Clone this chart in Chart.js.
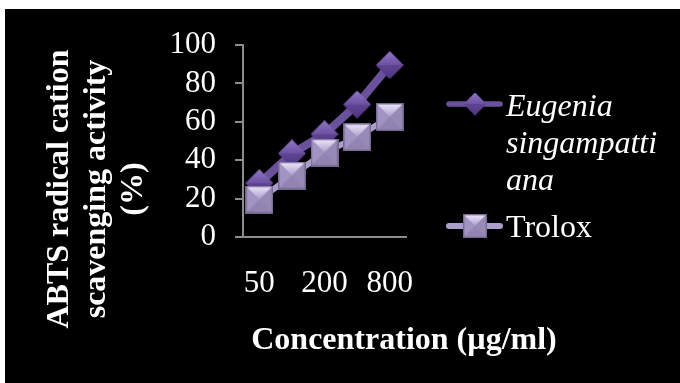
<!DOCTYPE html>
<html><head><meta charset="utf-8">
<script src="https://cdn.jsdelivr.net/npm/chart.js@4.4.0/dist/chart.umd.min.js"></script>
<style>html,body{margin:0;padding:0;background:#fff;}canvas{display:block;}</style>
</head><body>
<canvas id="c" width="680" height="383"></canvas>
<script>
const categories = ['50', '100', '200', '400', '800'];
const eugenia = [28, 43.5, 53.5, 69, 89.5];
const trolox = [19.5, 32, 44, 52, 62.5];
const seriesNames = ['Eugenia singampattiana', 'Trolox'];
const legendLines = [['Eugenia', 'singampatti', 'ana'], ['Trolox']];
const yTitleLines = ['ABTS radical cation', 'scavenging activity', '(%)'];
const xTitle = 'Concentration (µg/ml)';

const SERIF = "'Liberation Serif', 'Times New Roman', serif";

function makeDiamond() {
  const s = 28, h = s / 2;
  const c = document.createElement('canvas'); c.width = s; c.height = s;
  const g = c.getContext('2d');
  const gr = g.createLinearGradient(0, 0, 0, h);
  gr.addColorStop(0, '#9278c8'); gr.addColorStop(1, '#6c50a2');
  g.beginPath(); g.moveTo(0, h); g.lineTo(h, 0); g.lineTo(s, h); g.closePath();
  g.fillStyle = gr; g.fill();
  const gr2 = g.createLinearGradient(0, h, 0, s);
  gr2.addColorStop(0, '#5f4493'); gr2.addColorStop(1, '#4f3680');
  g.beginPath(); g.moveTo(0, h); g.lineTo(s, h); g.lineTo(h, s); g.closePath();
  g.fillStyle = gr2; g.fill();
  return c;
}
function makeSquare() {
  const s = 28, h = s / 2;
  const c = document.createElement('canvas'); c.width = s; c.height = s;
  const g = c.getContext('2d');
  g.fillStyle = '#9d90bd'; g.fillRect(0, 0, s, s);
  const gr = g.createLinearGradient(0, 0, 0, h);
  gr.addColorStop(0, '#f2eaff'); gr.addColorStop(1, '#a99dca');
  g.beginPath(); g.moveTo(0, 0); g.lineTo(s, 0); g.lineTo(h, h); g.closePath();
  g.fillStyle = gr; g.fill();
  g.beginPath(); g.moveTo(0, 0); g.lineTo(h, h); g.lineTo(0, s); g.closePath();
  g.fillStyle = '#a194c2'; g.fill();
  g.beginPath(); g.moveTo(s, 0); g.lineTo(h, h); g.lineTo(s, s); g.closePath();
  g.fillStyle = '#978ab6'; g.fill();
  g.beginPath(); g.moveTo(0, s); g.lineTo(h, h); g.lineTo(s, s); g.closePath();
  g.fillStyle = '#9184b1'; g.fill();
  g.strokeStyle = '#74688f'; g.lineWidth = 1.5; g.strokeRect(0.75, 0.75, s - 1.5, s - 1.5);
  return c;
}
const diamondImg = makeDiamond();
const squareImg = makeSquare();

const decor = {
  id: 'decor',
  beforeDraw(chart) {
    const ctx = chart.ctx;
    ctx.save();
    ctx.fillStyle = '#000';
    ctx.fillRect(5, 9, chart.width - 5, chart.height - 9);
    ctx.restore();
  },
  afterDraw(chart) {
    const ctx = chart.ctx;
    ctx.save();
    ctx.fillStyle = '#fff';
    ctx.textAlign = 'center';
    ctx.textBaseline = 'alphabetic';
    // y title (baselines)
    ctx.font = 'bold 32px ' + SERIF;
    const xs = [68, 105, 142];
    yTitleLines.forEach((t, i) => {
      ctx.save();
      ctx.translate(xs[i], 189);
      ctx.rotate(-Math.PI / 2);
      ctx.fillText(t, 0, 0);
      ctx.restore();
    });
    // x title
    ctx.fillText(xTitle, 404, 349);
    // legend
    const ds = chart.data.datasets;
    const entries = [{ base: 116, my: 104, lh: 37, lw: 5.5, ms: 23 }, { base: 237, my: 226, lh: 37, lw: 6, ms: 24 }];
    ds.forEach((d, i) => {
      const e = entries[i];
      ctx.strokeStyle = d.borderColor;
      ctx.lineWidth = e.lw;
      ctx.lineCap = 'round';
      ctx.beginPath(); ctx.moveTo(449, e.my); ctx.lineTo(500, e.my); ctx.stroke();
      ctx.drawImage(d.pointStyle, 475 - e.ms / 2, e.my - e.ms / 2, e.ms, e.ms);
      ctx.textAlign = 'left';
      ctx.font = (i === 0 ? 'italic ' : '') + '32px ' + SERIF;
      legendLines[i].forEach((t, k) => ctx.fillText(t, 506, e.base + k * e.lh));
    });
    ctx.restore();
  }
};

new Chart(document.getElementById('c'), {
  type: 'line',
  data: {
    labels: categories,
    datasets: [
      { label: seriesNames[0], data: eugenia, borderColor: '#6a519c', borderWidth: 8,
        pointStyle: diamondImg, pointRadius: 14, order: 1, tension: 0 },
      { label: seriesNames[1], data: trolox, borderColor: '#ab9ecb', borderWidth: 6,
        pointStyle: squareImg, pointRadius: 14, order: 0, tension: 0 }
    ]
  },
  options: {
    responsive: false,
    animation: false,
    events: [],
    layout: { padding: { top: 45, right: 274, bottom: 0, left: 0 } },
    plugins: { legend: { display: false }, tooltip: { enabled: false } },
    scales: {
      x: {
        offset: true,
        grid: { display: false, drawTicks: false },
        border: { display: true, color: '#8c8c8c', width: 2 },
        ticks: {
          autoSkip: false, maxRotation: 0, color: '#fff', padding: 28,
          font: { family: SERIF, size: 31 },
          callback: (v, i) => (i % 2 === 0 ? categories[i] : '')
        },
        afterFit: s => { s.height = 146; }
      },
      y: {
        min: 0, max: 100,
        grid: { display: true, drawOnChartArea: false, drawTicks: true, tickLength: 8, color: '#8c8c8c', lineWidth: 2 },
        border: { display: true, color: '#8c8c8c', width: 2 },
        ticks: { stepSize: 20, autoSkip: false, color: '#fff', padding: 19, font: { family: SERIF, size: 31 } },
        afterFit: s => { s.width = 243; }
      }
    }
  },
  plugins: [decor]
});
</script>
</body></html>
